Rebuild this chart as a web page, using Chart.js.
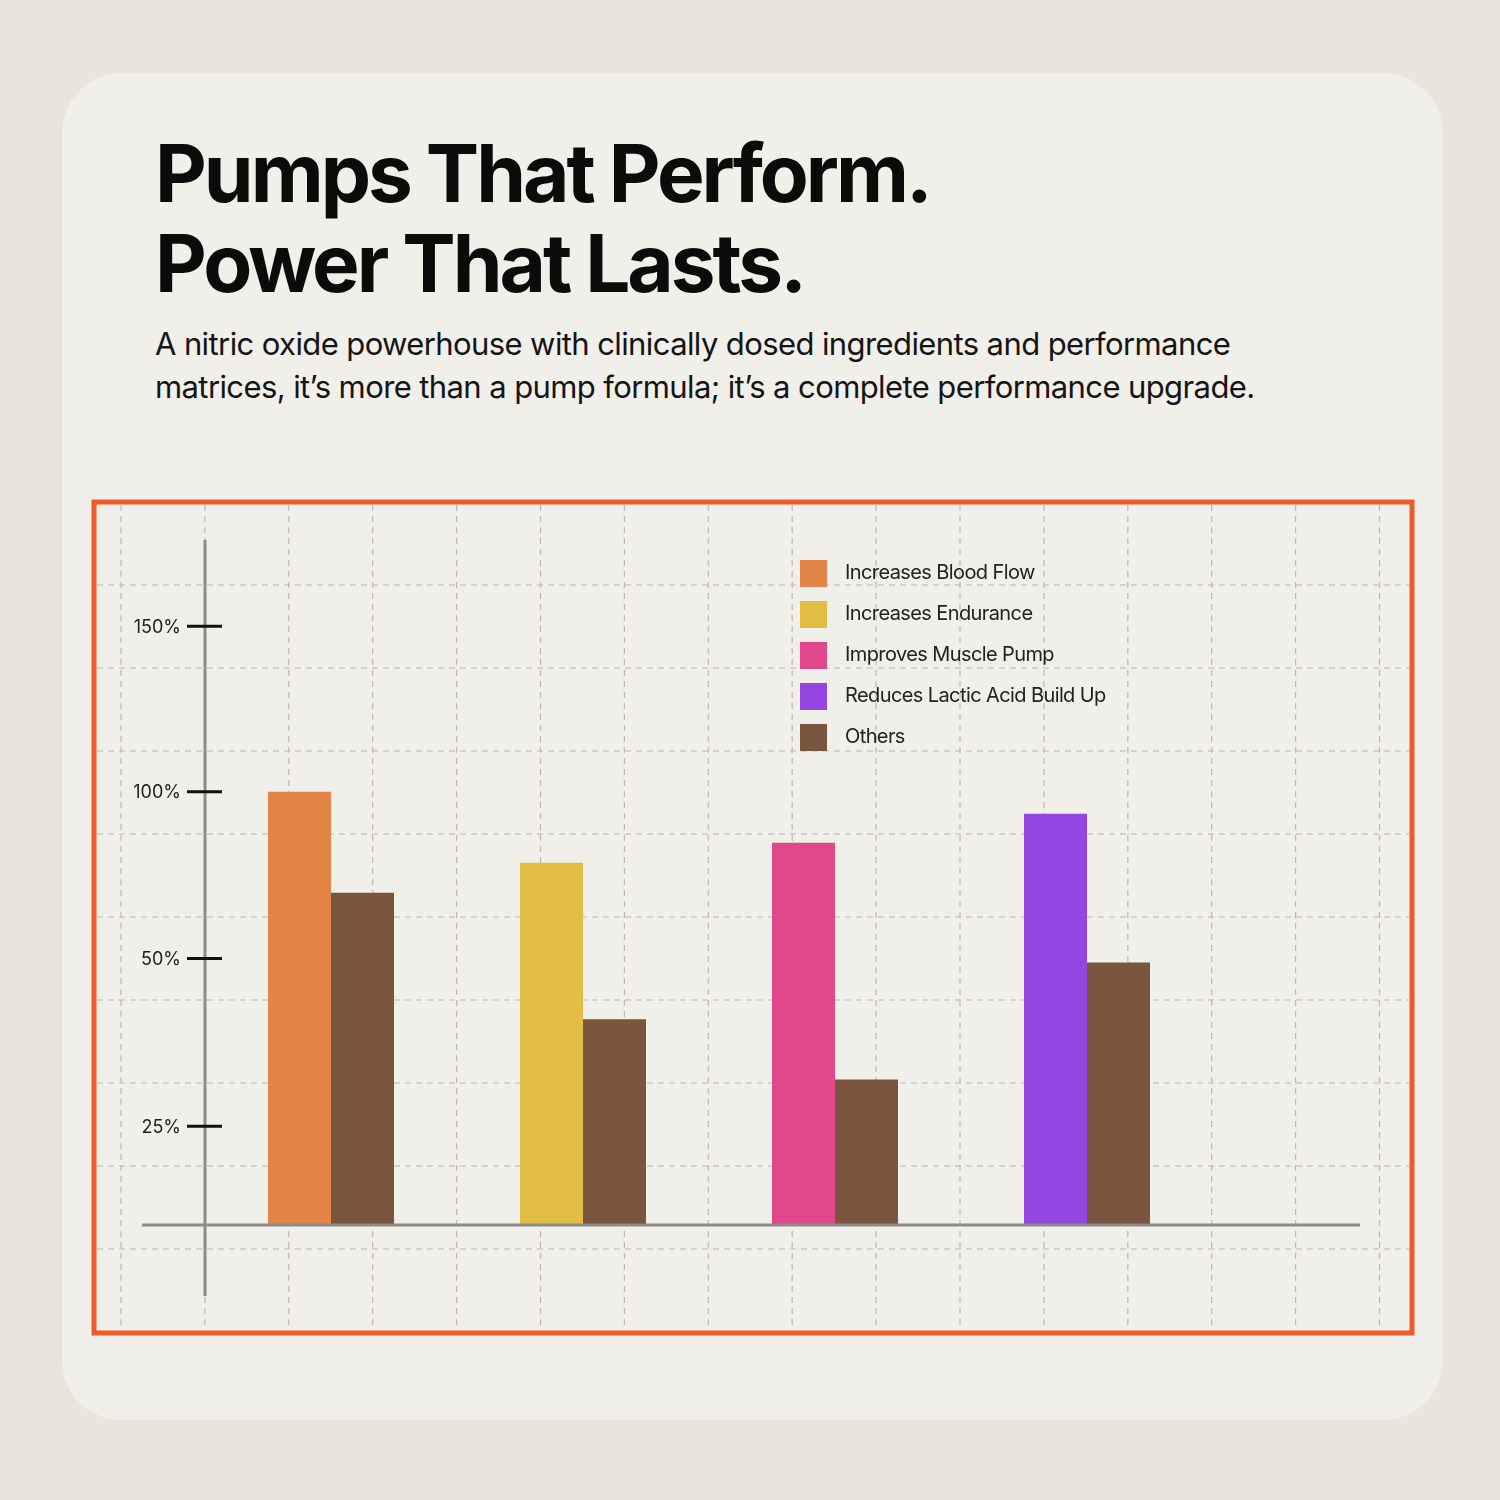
<!DOCTYPE html>
<html>
<head>
<meta charset="utf-8">
<script src="https://cdn.jsdelivr.net/npm/chart.js@4/dist/chart.umd.min.js"></script>
<style>
  body { margin: 0; background: #e8e5df; font-family: Inter, "Noto Sans", sans-serif; }
  #page { position: relative; width: 1500px; height: 1500px; overflow: hidden; }
  #card { position: absolute; left: 62px; top: 73px; width: 1381px; height: 1347px; background: #f1efe9; border-radius: 60px; }
  h1 { position: absolute; left: 155px; top: 128px; margin: 0; font-size: 80px; line-height: 90px; font-weight: 700; letter-spacing: -3px; color: #0b0b0b; }
  #sub { position: absolute; left: 155px; top: 322px; margin: 0; font-size: 31px; line-height: 43px; letter-spacing: -0.6px; color: #151515; }
  canvas { position: absolute; left: 0; top: 0; }
  #legend { position: absolute; left: 800px; top: 560px; font-size: 20px; letter-spacing: -0.6px; color: #222; }
  #legend div { height: 41px; display: flex; align-items: flex-start; }
  #legend span.sw { width: 27px; height: 27px; margin-right: 18px; display: inline-block; }
</style>
</head>
<body>
<div id="page">
  <div id="card"></div>
  <h1>Pumps That Perform.<br>Power That Lasts.</h1>
  <p id="sub">A nitric oxide powerhouse with clinically dosed ingredients and performance<br>matrices, it’s more than a pump formula; it’s a complete performance upgrade.</p>
  <canvas id="c" width="1500" height="1500"></canvas>
  <div id="legend"></div>
</div>
<script>
const categories = ['Blood Flow', 'Endurance', 'Muscle Pump', 'Lactic Acid', ''];
const benefitValues = [100, 83.6, 88.2, 94.9, null];
const othersValues = [76.7, 47.5, 33.6, 60.6, null];
const legendLabels = ['Increases Blood Flow', 'Increases Endurance', 'Improves Muscle Pump', 'Reduces Lactic Acid Build Up', 'Others'];
const tickValues = [22.8, 61.5, 100, 138.2];
const tickLabels = ['25%', '50%', '100%', '150%'];

const barColors = ['#e38546', '#e2bd45', '#e2468b', '#9545e2'];
const othersColor = '#7a563f';

// legend as html
const leg = document.getElementById('legend');
legendLabels.forEach((l, i) => {
  const d = document.createElement('div');
  d.innerHTML = '<span class="sw" style="background:' + (barColors[i] || othersColor) + '"></span>' + l;
  leg.appendChild(d);
});

const decor = {
  id: 'decor',
  beforeDatasetsDraw(chart) {
    const ctx = chart.ctx;
    ctx.save();
    ctx.strokeStyle = '#bcb8b1';
    ctx.lineWidth = 1.2;
    ctx.setLineDash([6, 5]);
    for (let x = 121; x <= 1385; x += 83.9) {
      ctx.beginPath(); ctx.moveTo(x, 505); ctx.lineTo(x, 1330); ctx.stroke();
    }
    for (let y = 585; y <= 1255; y += 83.0) {
      ctx.beginPath(); ctx.moveTo(97, y); ctx.lineTo(1409, y); ctx.stroke();
    }
    ctx.restore();
  },
  afterDatasetsDraw(chart) {
    const ctx = chart.ctx;
    const ys = chart.scales.y;
    const base = ys.getPixelForValue(0);
    ctx.save();
    ctx.strokeStyle = '#8c8c8c';
    ctx.lineWidth = 3;
    ctx.beginPath(); ctx.moveTo(205, 540); ctx.lineTo(205, 1296); ctx.stroke();
    ctx.beginPath(); ctx.moveTo(142, base); ctx.lineTo(1360, base); ctx.stroke();
    ctx.strokeStyle = '#111';
    ctx.fillStyle = '#222';
    ctx.font = '18px Inter, sans-serif';
    ctx.textAlign = 'right';
    ctx.textBaseline = 'middle';
    tickValues.forEach((v, i) => {
      const y = ys.getPixelForValue(v);
      ctx.beginPath(); ctx.moveTo(187, y); ctx.lineTo(222, y); ctx.stroke();
      ctx.fillText(tickLabels[i], 181, y + 1);
    });
    ctx.strokeStyle = '#ee5a2a';
    ctx.lineWidth = 5;
    ctx.strokeRect(94, 502, 1318, 831);
    ctx.restore();
  }
};

new Chart(document.getElementById('c'), {
  type: 'bar',
  data: {
    labels: categories,
    datasets: [
      { label: 'Benefit', data: benefitValues, backgroundColor: barColors },
      { label: 'Others', data: othersValues, backgroundColor: othersColor }
    ]
  },
  options: {
    responsive: false,
    animation: false,
    devicePixelRatio: 1,
    layout: { padding: { left: 205, top: 575, right: 35, bottom: 275 } },
    datasets: { bar: { categoryPercentage: 0.5, barPercentage: 1.0 } },
    scales: {
      x: { display: false },
      y: { display: false, min: 0, max: 150 }
    },
    plugins: { legend: { display: false }, tooltip: { enabled: false } }
  },
  plugins: [decor]
});
</script>
</body>
</html>
